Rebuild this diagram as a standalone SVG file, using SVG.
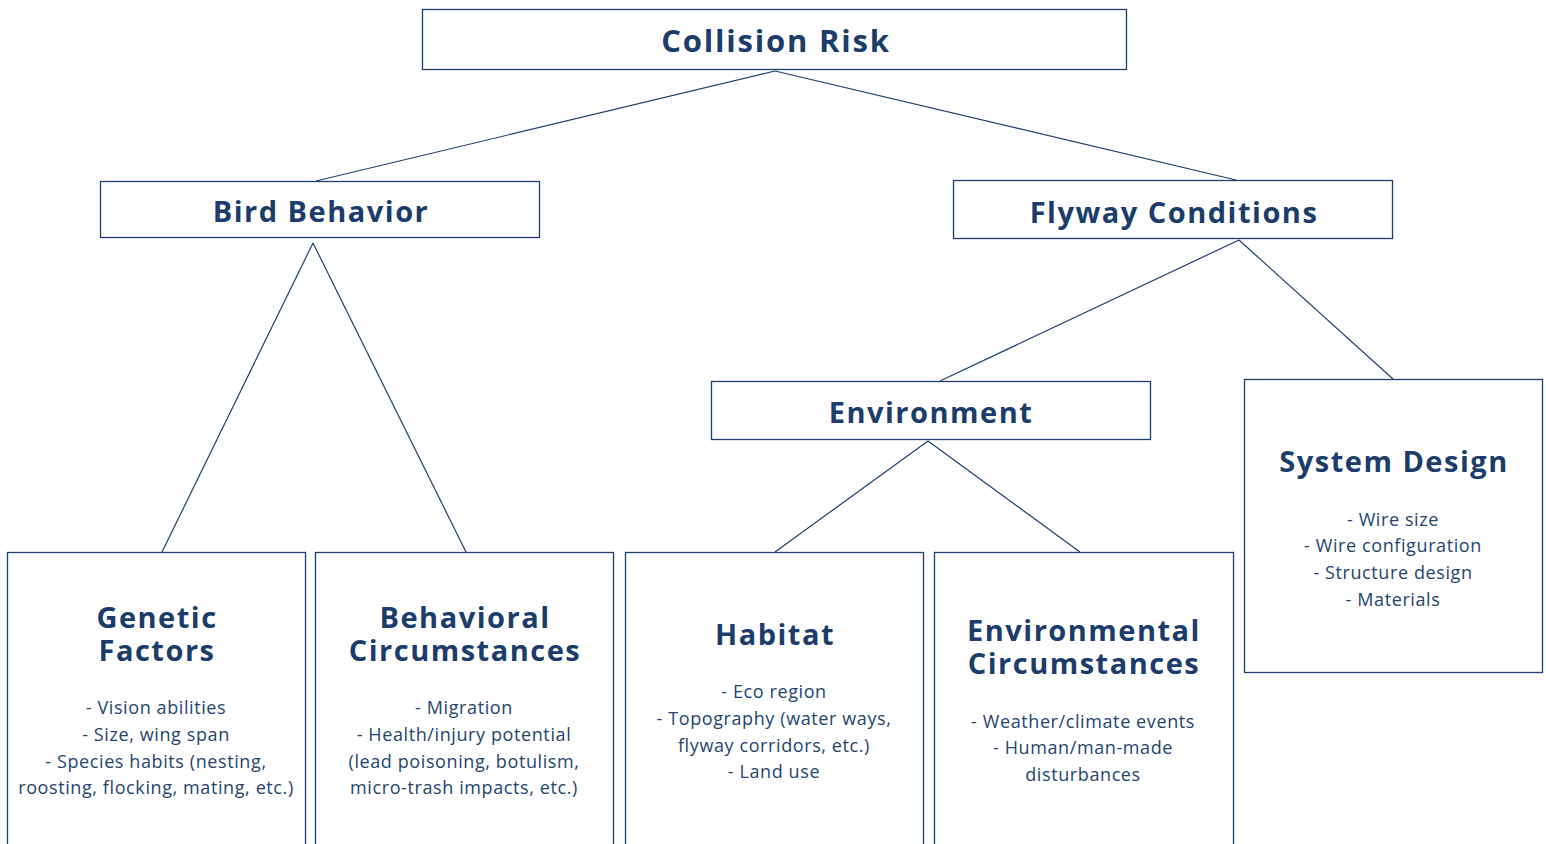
<svg xmlns="http://www.w3.org/2000/svg" width="1546" height="844" viewBox="0 0 1546 844">
<style>
.box{fill:#fff;stroke:#1f3f6d;stroke-width:1.3}
.t{font-family:"Open Sans","Liberation Sans",sans-serif;font-weight:700;fill:#1c3d6b;text-anchor:middle;font-size:29px;letter-spacing:1.5px}
.b{font-family:"Open Sans","Liberation Sans",sans-serif;font-size:18px;fill:#25456f;text-anchor:middle;letter-spacing:0.6px}
.c{stroke:#1f3f6d;stroke-width:1.2;fill:none}
</style>
<rect width="1546" height="844" fill="#fff"/>
<g id="connectors">
<line class="c" x1="775" y1="71" x2="316" y2="181"/>
<line class="c" x1="775" y1="71" x2="1236" y2="180"/>
<line class="c" x1="313" y1="243" x2="162" y2="552"/>
<line class="c" x1="313" y1="243" x2="466" y2="552"/>
<line class="c" x1="1239" y1="240" x2="940" y2="381"/>
<line class="c" x1="1239" y1="240" x2="1393" y2="379"/>
<line class="c" x1="928" y1="441" x2="775" y2="552"/>
<line class="c" x1="928" y1="441" x2="1080" y2="552"/>
</g>
<g id="collision-risk">
<rect class="box" x="422.5" y="9.5" width="704" height="60"/>
<text class="t" x="776" y="52" style="font-size:31px;letter-spacing:1.8px">Collision Risk</text>
</g>
<g id="bird-behavior">
<rect class="box" x="100.5" y="181.5" width="439" height="56"/>
<text class="t" x="321" y="222">Bird Behavior</text>
</g>
<g id="flyway-conditions">
<rect class="box" x="953.5" y="180.5" width="439" height="58"/>
<text class="t" x="1174" y="223">Flyway Conditions</text>
</g>
<g id="environment">
<rect class="box" x="711.5" y="381.5" width="439" height="58"/>
<text class="t" x="931" y="423">Environment</text>
</g>
<g id="system-design">
<rect class="box" x="1244.5" y="379.5" width="298" height="293"/>
<text class="t" x="1394" y="472">System Design</text>
<text class="b" x="1393" y="526">- Wire size</text>
<text class="b" x="1393" y="552">- Wire configuration</text>
<text class="b" x="1393" y="579">- Structure design</text>
<text class="b" x="1393" y="606">- Materials</text>
</g>
<g id="genetic-factors">
<rect class="box" x="7.5" y="552.5" width="298" height="300"/>
<text class="t"><tspan x="157" y="628">Genetic</tspan><tspan x="157" y="661">Factors</tspan></text>
<text class="b" x="156" y="714">- Vision abilities</text>
<text class="b" x="156" y="741">- Size, wing span</text>
<text class="b" x="156" y="768">- Species habits (nesting,</text>
<text class="b" x="156" y="794">roosting, flocking, mating, etc.)</text>
</g>
<g id="behavioral-circumstances">
<rect class="box" x="315.5" y="552.5" width="298" height="300"/>
<text class="t"><tspan x="465" y="628">Behavioral</tspan><tspan x="465" y="661">Circumstances</tspan></text>
<text class="b" x="464" y="714">- Migration</text>
<text class="b" x="464" y="741">- Health/injury potential</text>
<text class="b" x="464" y="768">(lead poisoning, botulism,</text>
<text class="b" x="464" y="794">micro-trash impacts, etc.)</text>
</g>
<g id="habitat">
<rect class="box" x="625.5" y="552.5" width="298" height="300"/>
<text class="t" x="775" y="645">Habitat</text>
<text class="b" x="774" y="698">- Eco region</text>
<text class="b" x="774" y="725">- Topography (water ways,</text>
<text class="b" x="774" y="752">flyway corridors, etc.)</text>
<text class="b" x="774" y="778">- Land use</text>
</g>
<g id="environmental-circumstances">
<rect class="box" x="934.5" y="552.5" width="299" height="300"/>
<text class="t"><tspan x="1084" y="641">Environmental</tspan><tspan x="1084" y="674">Circumstances</tspan></text>
<text class="b" x="1083" y="728">- Weather/climate events</text>
<text class="b" x="1083" y="754">- Human/man-made</text>
<text class="b" x="1083" y="781">disturbances</text>
</g>
</svg>
